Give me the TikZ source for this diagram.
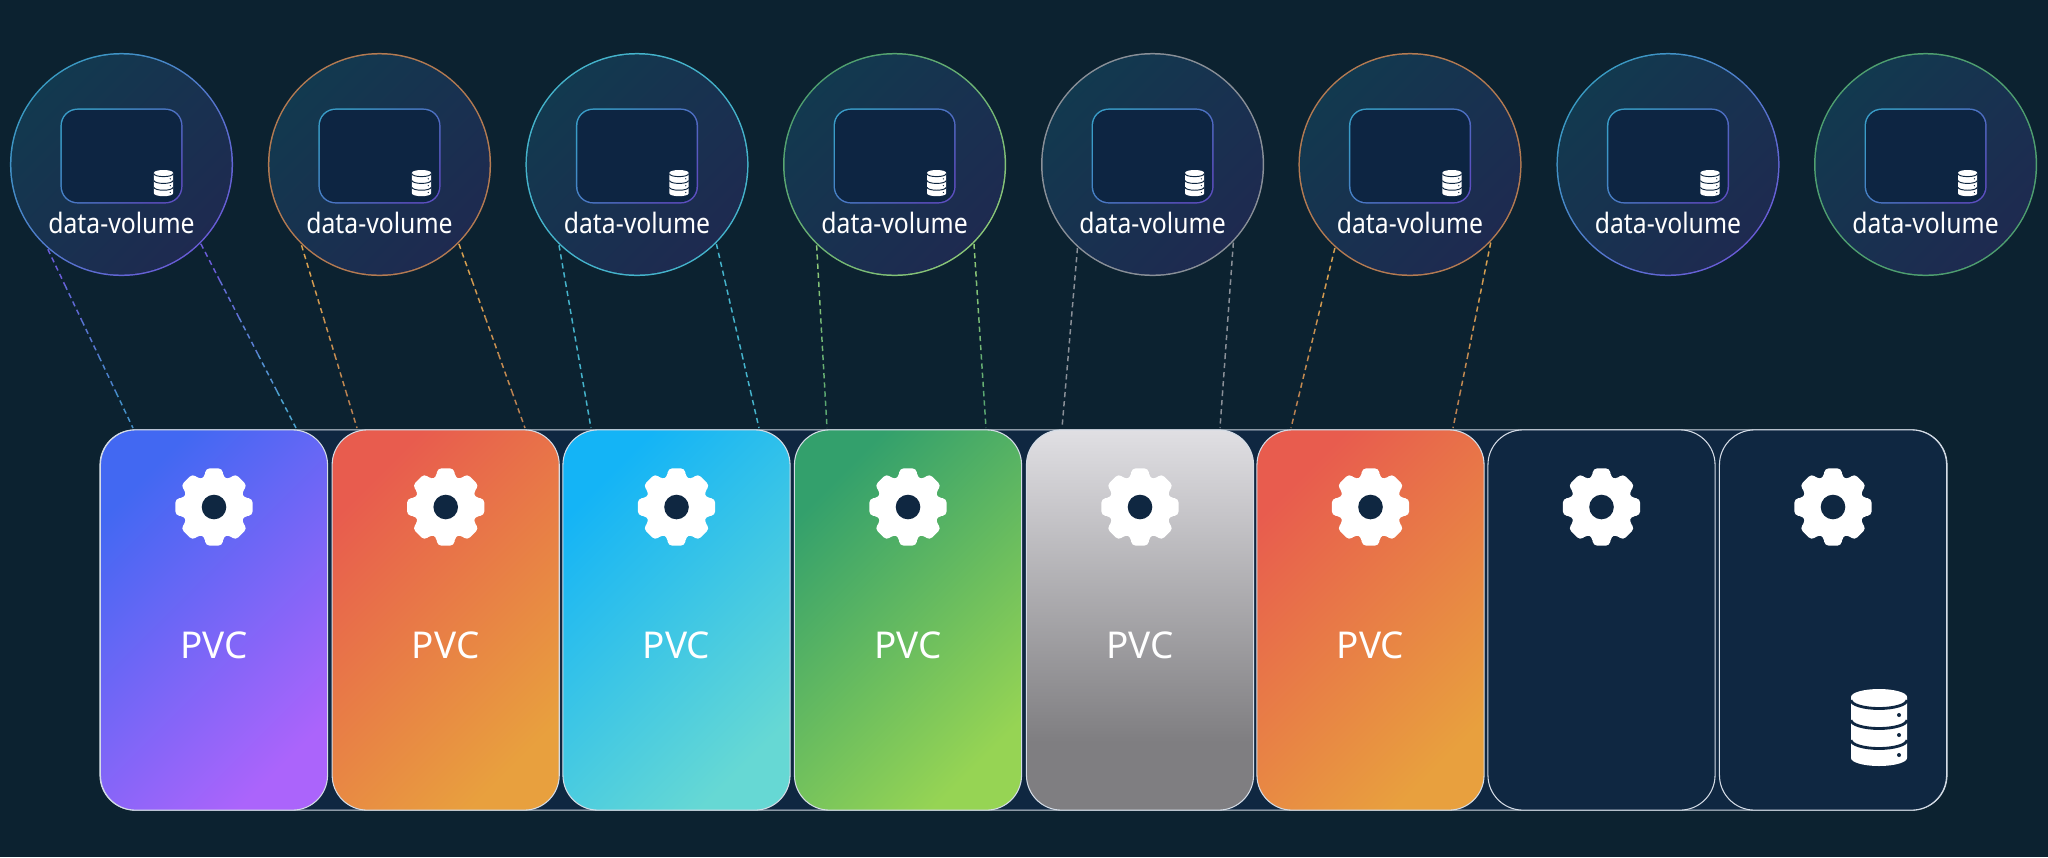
\documentclass[tikz,border=0pt]{standalone}
\usepackage{fontspec}
\setmainfont{Noto Sans}
\newfontfamily\volfont[FakeStretch=0.88]{Noto Sans}
\usetikzlibrary{calc}
\definecolor{pagebg}{HTML}{0C2230}
\definecolor{navy}{HTML}{0F2741}
\definecolor{edgeline}{HTML}{D4DCE6}
\definecolor{discA}{HTML}{12394F}
\definecolor{discB}{HTML}{1E2A50}
\definecolor{boxfill}{HTML}{0D2542}
\definecolor{boxA}{HTML}{3A9CC8}
\definecolor{boxB}{HTML}{5C4FC0}
% ring and dash colours
\definecolor{tealR}{HTML}{3A9CC4}
\definecolor{violetR}{HTML}{6A5CD8}
\definecolor{brownR}{HTML}{B57B52}
\definecolor{orangeR}{HTML}{D8A050}
\definecolor{cyanR}{HTML}{45B4CC}
\definecolor{greenR}{HTML}{4FA070}
\definecolor{limeR}{HTML}{8CC878}
\definecolor{greyR}{HTML}{8A9098}
% card colours
\definecolor{blueA}{HTML}{4268F2}
\definecolor{blueB}{HTML}{AB64FB}
\definecolor{redA}{HTML}{E85C4E}
\definecolor{redB}{HTML}{E8A03E}
\definecolor{skyA}{HTML}{14B4F6}
\definecolor{skyB}{HTML}{66D8D4}
\definecolor{leafA}{HTML}{33A06C}
\definecolor{leafB}{HTML}{96D454}
\definecolor{silverA}{HTML}{E0DFE3}
\definecolor{silverB}{HTML}{7F7E81}
\pgfdeclareverticalshading{silvercard}{100bp}{color(0bp)=(silverB); color(34bp)=(silverB); color(75bp)=(silverA); color(100bp)=(silverA)}
\tikzset{
  % 1 unit of the picture is 1 pixel of the reference
  ring/.style={circle,inner sep=0pt,minimum size=2.23cm},
  disc/.style={circle,inner sep=0pt,minimum size=2.2cm,top color=discA,bottom color=discB,shading angle=45},
  framebox/.style={rectangle,rounded corners=0.17cm,inner sep=0pt,minimum width=1.22cm,minimum height=0.95cm,top color=boxA,bottom color=boxB,shading angle=45},
  innerbox/.style={rectangle,rounded corners=0.155cm,inner sep=0pt,minimum width=1.19cm,minimum height=0.92cm,fill=boxfill},
  card/.style={rectangle,rounded corners=0.35cm,inner sep=0pt,minimum width=2.27cm,minimum height=3.8cm,draw=edgeline,line width=0.3pt},
  vollabel/.style={text=white,font=\volfont\fontsize{8}{10}\selectfont,inner sep=0pt},
  pvclabel/.style={text=white,font=\fontsize{10.5}{12}\selectfont,inner sep=0pt},
  link/.style={line width=0.42pt,dash pattern=on 1.5pt off 1.1pt},
  gear/.pic={
    \fill[white,rounded corners=1.1pt] (18:31) \foreach \a in {45,90,...,315}{ -- (\a-18:31) -- (\a-12:39.5) -- (\a+12:39.5) -- (\a+18:31)} -- (342:31) -- (348:39.5) -- (12:39.5) -- cycle;
    \fill[navy] (0,0) circle (12.3);
  },
}
% db icon: x, y of the top centre, scale
\newcommand{\dbicon}[3]{
  \begin{scope}[shift={(#1,#2)},scale=#3]
    \fill[white] (-28,8) arc[x radius=28,y radius=8,start angle=180,end angle=360] -- (28,69) arc[x radius=28,y radius=8,start angle=0,end angle=180] -- cycle;
    \foreach \h in {11,31,51}{
      \draw[navy,line width=#3*0.8pt] (-28,\h) arc[x radius=28,y radius=8.5,start angle=180,end angle=0];
    }
    \foreach \h in {26,46,66}{
      \fill[navy] (20,\h) circle (2);
    }
  \end{scope}
}
% dashed link in short pieces, the colour runs from #3 to #4
\newcommand{\dashlink}[4]{
  \foreach \s [evaluate=\s as \t using \s+0.2, evaluate=\s as \p using 100-100*\s] in {0,0.2,0.4,0.6,0.8}{
    \draw[link,color=#4!\p!#3] ($(#1)!\s!(#2)$) -- ($(#1)!\t!(#2)$);
  }
}
\begin{document}
\begin{tikzpicture}[x=0.01cm,y=-0.01cm]
  \useasboundingbox (0,0) rectangle (2048,857);
  \fill[pagebg] (0,0) rectangle (2048,857);
  % Strip behind the cards
  \node[rectangle,rounded corners=0.35cm,inner sep=0pt,minimum width=18.46cm,minimum height=3.8cm,draw=edgeline,line width=0.3pt,fill=navy] (strip) at (1023.5,620) {};
  % Cards
  \node[card,top color=blueA,bottom color=blueB,shading angle=45] (p1) at (214,620) {};
  \node[card,top color=redA,bottom color=redB,shading angle=45] (p2) at (445.7,620) {};
  \node[card,top color=skyA,bottom color=skyB,shading angle=45] (p3) at (676.5,620) {};
  \node[card,top color=leafA,bottom color=leafB,shading angle=45] (p4) at (908,620) {};
  \node[card,shading=silvercard] (p5) at (1140,620) {};
  \node[card,top color=redA,bottom color=redB,shading angle=45] (p6) at (1370.5,620) {};
  \node[card,fill=navy] (p7) at (1601.5,620) {};
  \node[card,fill=navy] (p8) at (1833,620) {};
  % Gears and labels
  \foreach \i/\x in {1/214,2/445.7,3/676.5,4/908,5/1140,6/1370.5,7/1601.5,8/1833}{
    \pic (g\i) at (\x,507) {gear};
  }
  \foreach \i/\x in {1/214,2/445.7,3/676.5,4/908,5/1140,6/1370.5}{
    \node[pvclabel] (pvc\i) at (\x,645) {PVC};
  }
  \dbicon{1879}{689}{1}
  % Volumes
  \foreach \i/\x/\ca/\cb in {1/121.5/tealR/violetR,2/379.5/brownR/brownR,3/637/cyanR/cyanR,4/894.6/greenR/limeR,5/1152.6/greyR/greyR,6/1410/brownR/brownR,7/1668/tealR/violetR,8/1925.6/greenR/greenR}{
    \node[ring,top color=\ca,bottom color=\cb,shading angle=45] (c\i) at (\x,164.5) {};
    \node[disc] (d\i) at (c\i) {};
    \node[framebox] (f\i) at (\x,156) {};
    \node[innerbox] (b\i) at (f\i) {};
    \node[vollabel] (v\i) at (\x,223) {data-volume};
    \dbicon{\x+42}{170}{0.34}
  }
  % Links from volumes to cards
  \foreach \i/\xa/\xb in {1/133/296,2/357/525,3/591/759,4/827/986,5/1062/1220,6/1291/1453}{
    \coordinate (pa\i) at (\xa,428);
    \coordinate (pb\i) at (\xb,428);
  }
  \dashlink{c1.229}{pa1}{tealR}{violetR}
  \dashlink{c1.315}{pb1}{cyanR}{violetR}
  \dashlink{c2.226}{pa2}{brownR}{orangeR}
  \dashlink{c2.315}{pb2}{brownR}{orangeR}
  \dashlink{c3.226}{pa3}{cyanR}{cyanR}
  \dashlink{c3.315}{pb3}{cyanR}{cyanR}
  \dashlink{c4.226}{pa4}{greenR}{limeR}
  \dashlink{c4.315}{pb4}{greenR}{limeR}
  \dashlink{c5.228}{pa5}{greyR}{greyR}
  \dashlink{c5.316}{pb5}{greyR}{greyR}
  \dashlink{c6.228}{pa6}{brownR}{orangeR}
  \dashlink{c6.316}{pb6}{brownR}{orangeR}
\end{tikzpicture}
\end{document}
